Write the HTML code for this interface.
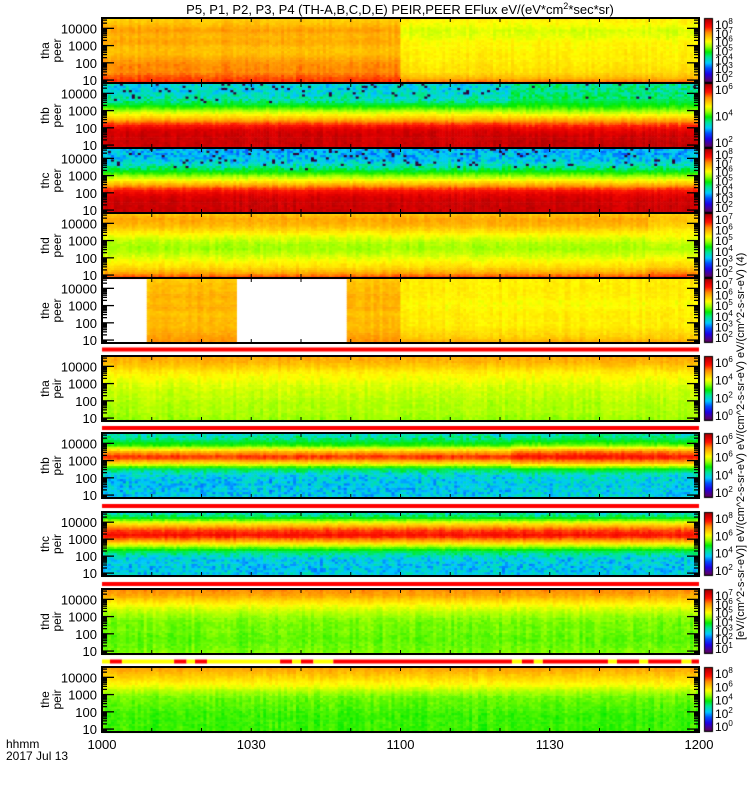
<!DOCTYPE html>
<html><head><meta charset="utf-8">
<style>
html,body{margin:0;padding:0;background:#fff;}
#wrap{position:relative;width:750px;height:800px;overflow:hidden;}
canvas,svg{position:absolute;left:0;top:0;}
text{font-family:"Liberation Sans",sans-serif;fill:#000;}
</style></head>
<body>
<div id="wrap">
<canvas id="cv" width="750" height="800"></canvas>
<svg id="sv" width="750" height="800" xmlns="http://www.w3.org/2000/svg">
<text x="400" y="14" font-size="13" text-anchor="middle">P5, P1, P2, P3, P4 (TH-A,B,C,D,E) PEIR,PEER EFlux eV/(eV*cm<tspan font-size="9" dy="-5">2</tspan><tspan dy="5">*sec*sr)</tspan></text>
<text x="6" y="748" font-size="12">hhmm</text>
<text x="6" y="760" font-size="12">2017 Jul 13</text>
<text transform="translate(744,640) rotate(-90)" font-size="11">[eV/(cm^2-s-sr-eV)] eV/(cm^2-s-sr-eV) eV/(cm^2-s-sr-eV) eV/(cm^2-s-sr-eV) (4)</text>
</svg>
</div>
<script>
// ---------- data ----------
const timeTicks = [1000, 1030, 1100, 1130, 1200];
const tickLabels = ["1000", "1030", "1100", "1130", "1200"];
const yTickValues = [10, 100, 1000, 10000];
const panelNames = [["tha","peer"],["thb","peer"],["thc","peer"],["thd","peer"],["the","peer"],["tha","peir"],["thb","peir"],["thc","peir"],["thd","peir"],["the","peir"]];
// energy profiles (normalized log flux, low energy -> high energy), per time segment [startMin, endMin]
const p1A = [0.88,0.84,0.8,0.8,0.78,0.74,0.74,0.77,0.75,0.78,0.74,0.72];
const p1B = [0.85,0.74,0.7,0.69,0.68,0.68,0.67,0.67,0.64,0.63,0.66,0.68];
const p2A = [0.96,0.96,0.96,0.95,0.88,0.74,0.64,0.52,0.42,0.38,0.36,0.36];
const p2B = [0.97,0.97,0.96,0.93,0.86,0.74,0.62,0.52,0.46,0.43,0.42,0.42];
const p3A = [0.96,0.96,0.96,0.94,0.88,0.74,0.62,0.5,0.4,0.34,0.32,0.32];
const p4A = [0.88,0.76,0.7,0.66,0.62,0.59,0.6,0.64,0.7,0.75,0.77,0.73];
const p4B = [0.9,0.8,0.72,0.68,0.64,0.6,0.62,0.66,0.68,0.72,0.74,0.72];
const p5A = [0.8,0.78,0.76,0.74,0.75,0.73,0.76,0.74,0.76,0.74,0.74,0.72];
const p5B = [0.78,0.72,0.7,0.68,0.68,0.68,0.67,0.66,0.68,0.68,0.68,0.68];
const p6A = [0.58,0.59,0.6,0.6,0.61,0.62,0.63,0.65,0.67,0.71,0.75,0.77];
const p7A = [0.35,0.34,0.34,0.34,0.36,0.46,0.7,0.88,0.74,0.52,0.44,0.38];
const p7B = [0.36,0.35,0.35,0.36,0.38,0.5,0.75,0.9,0.8,0.56,0.46,0.4];
const p8A = [0.36,0.34,0.34,0.35,0.42,0.56,0.75,0.9,0.85,0.7,0.5,0.37];
const p9A = [0.57,0.56,0.55,0.55,0.56,0.56,0.57,0.6,0.64,0.7,0.77,0.8];
const p10A = [0.53,0.53,0.53,0.53,0.54,0.55,0.56,0.6,0.66,0.7,0.74,0.78];
const segments = [
  [[1000,1100,p1A],[1100,1200,p1B]],
  [[1000,1122,p2A],[1122,1200,p2B]],
  [[1000,1200,p3A]],
  [[1000,1150,p4A],[1150,1200,p4B]],
  [[1000,1009.3,null],[1009.3,1026.8,p5A],[1026.8,1049.5,null],[1049.5,1100,p5A],[1100,1200,p5B]],
  [[1000,1200,p6A]],
  [[1000,1122,p7A],[1122,1200,p7B]],
  [[1000,1200,p8A]],
  [[1000,1200,p9A]],
  [[1000,1200,p10A]]
];
const panelTop = [18,83,148,213,278,356,433,512,589,667];
const panelBot = [83,148,213,278,343,421,498,576,654,732];
const cbLabels = [[8,7,6,5,4,3,2],[6,4,2],[8,7,6,5,4,3,2],[7,6,5,4,3,2],[7,6,5,4,3,2],[6,4,2,0],[6,6,4,2],[8,6,4,2],[7,6,5,4,3,2,1],[8,6,4,2,0]];
// quality flag bars: [start, end, color]
const flagBars = [
 {y:347.5,segs:[[1000,1200,"red"]]},
 {y:426,segs:[[1000,1200,"red"]]},
 {y:504,segs:[[1000,1200,"red"]]},
 {y:582,segs:[[1000,1200,"red"]]},
 {y:659.5,segs:[[1000,1001.6,"yellow"],[1001.6,1004,"red"],[1004,1014.5,"yellow"],[1014.5,1017,"red"],[1017,1018.7,"yellow"],[1018.7,1021.1,"red"],[1021.1,1035.8,"yellow"],[1035.8,1038.2,"red"],[1038.2,1040,"yellow"],[1040,1042.5,"red"],[1042.5,1046.5,"yellow"],[1046.5,1122.4,"red"],[1122.4,1124.4,"yellow"],[1124.4,1126.8,"red"],[1126.8,1128.6,"yellow"],[1128.6,1141.7,"red"],[1141.7,1143.5,"yellow"],[1143.5,1148,"red"],[1148,1149.8,"yellow"],[1149.8,1156.5,"red"],[1156.5,1158.5,"yellow"],[1158.5,1200,"red"]]}
];
// ---------- axes ----------
const X0=102, X1=699, LMIN=0.83, LMAX=4.6;
function tMin(t){const h=Math.floor(t/100);return h*60+(t-h*100);}
function xScale(t){return X0+(tMin(t)-600)/120*(X1-X0);}
function yScale(p,logv){return panelBot[p]-(logv-LMIN)/(LMAX-LMIN)*(panelBot[p]-panelTop[p]);}
const stops=[[0,[0,0,0]],[0.06,[90,0,110]],[0.16,[30,0,230]],[0.25,[0,80,255]],[0.33,[0,200,255]],[0.42,[0,230,150]],[0.5,[0,235,0]],[0.58,[150,255,0]],[0.66,[255,255,0]],[0.74,[255,190,0]],[0.8,[255,140,0]],[0.88,[255,20,0]],[0.94,[225,0,0]],[1,[170,0,0]]];
function cmap(v){v=Math.max(0,Math.min(1,v));for(let i=1;i<stops.length;i++){if(v<=stops[i][0]){const a=stops[i-1],b=stops[i];const f=(v-a[0])/(b[0]-a[0]);return "rgb("+[0,1,2].map(k=>Math.round(a[1][k]+(b[1][k]-a[1][k])*f)).join(",")+")";}}return "rgb(170,0,0)";}
function hash(a,b,c){let h=(a*374761393+b*668265263+c*2147483647)|0;h=(h^(h>>>13))*1274126177|0;return ((h^(h>>>16))>>>0)/4294967295;}
const cv=document.getElementById('cv');const ctx=cv.getContext('2d');
const NC=200, NR=30;
for(let p=0;p<10;p++){
  const colW=(X1-X0)/NC;
  for(let c=0;c<NC;c++){
    const m=600+(c+0.5)/NC*120; const t=Math.floor(m/60)*100+(m%60);
    let prof=null,found=false;
    for(const s of segments[p]){if(t>=s[0]&&t<s[1]){prof=s[2];found=true;break;}}
    if(!found)prof=segments[p][segments[p].length-1][2];
    if(!prof)continue;
    const colN=(hash(c,999,p)-0.5)*0.03;
    for(let r=0;r<NR;r++){
      const fr=(r+0.5)/NR*(prof.length-1); const i0=Math.floor(fr),i1=Math.min(prof.length-1,i0+1);
      let v=prof[i0]+(prof[i1]-prof[i0])*(fr-i0);
      const n=hash(c,r,p)-0.5;
      v+= colN + (v<0.45 ? n*0.12 : n*0.03);
      if(p<5 && v<0.42 && hash(r,c,p+17)>0.95) v=0.03;
      const lv0=LMIN+r/NR*(LMAX-LMIN), lv1=LMIN+(r+1)/NR*(LMAX-LMIN);
      const y0=yScale(p,lv1), y1=yScale(p,lv0);
      ctx.fillStyle=cmap(v);
      ctx.fillRect(X0+c*colW,y0,colW+0.6,y1-y0+0.6);
    }
  }
  const cy0=panelTop[p]+1, cy1=panelBot[p]-1;
  for(let y=cy0;y<cy1;y++){ctx.fillStyle=cmap(1-(y-cy0)/(cy1-cy0)*0.97);ctx.fillRect(705,y,7,1);}
  ctx.strokeStyle="#000";ctx.lineWidth=1;ctx.strokeRect(704.5,cy0-0.5,8,cy1-cy0+1);
}
for(const fb of flagBars){for(const s of fb.segs){ctx.fillStyle=s[2];ctx.fillRect(xScale(s[0]),fb.y,xScale(s[1])-xScale(s[0]),4);}}
const NS="http://www.w3.org/2000/svg";const sv=document.getElementById('sv');
function mk(tag,attrs){const e=document.createElementNS(NS,tag);for(const k in attrs)e.setAttribute(k,attrs[k]);sv.appendChild(e);return e;}
for(let p=0;p<10;p++){
  const fr=mk('rect',{x:X0,y:panelTop[p],width:X1-X0,height:panelBot[p]-panelTop[p],fill:'none',stroke:'#000','stroke-width':2});
  
  
  for(let d=0;d<=4;d++){for(let k=1;k<10;k++){
    const lv=d+Math.log10(k); if(lv<LMIN||lv>LMAX)continue;
    const y=yScale(p,lv); const L=k===1?12:5;
    mk('line',{x1:X0,x2:X0+L,y1:y,y2:y,stroke:'#000','stroke-width':1.3});
    mk('line',{x1:X1-L,x2:X1,y1:y,y2:y,stroke:'#000','stroke-width':1.3});
  }}
  for(const v of yTickValues){
    const tx=mk('text',{x:97,y:yScale(p,Math.log10(v))+5,'font-size':13,'text-anchor':'end'});
    tx.textContent=String(v);
    
    
  }
  for(let m=0;m<=120;m+=10){
    const x=X0+m/120*(X1-X0);
    mk('line',{x1:x,x2:x,y1:panelBot[p],y2:panelBot[p]-4,stroke:'#000'});
    mk('line',{x1:x,x2:x,y1:panelTop[p],y2:panelTop[p]+4,stroke:'#000'});
  }
  const cyM=(panelTop[p]+panelBot[p])/2;
  const nm=mk('text',{transform:`translate(49,${cyM}) rotate(-90)`,'font-size':12,'text-anchor':'middle'});
  nm.textContent=panelNames[p][0];
  
  
  const nm2=mk('text',{transform:`translate(61,${cyM}) rotate(-90)`,'font-size':12,'text-anchor':'middle'});
  nm2.textContent=panelNames[p][1];
  
  
  const labs=cbLabels[p]; const n=labs.length;
  for(let i=0;i<n;i++){
    const y=panelTop[p]+6+(panelBot[p]-panelTop[p]-12)*(i/(Math.max(1,n-1)));
    const t=mk('text',{x:715,y:y+5,'font-size':12});
    t.innerHTML='10<tspan font-size="8" dy="-5">'+labs[i]+'</tspan>';
    
    
  }
}
for(let i=0;i<timeTicks.length;i++){
  const t=mk('text',{x:xScale(timeTicks[i]),y:749,'font-size':13,'text-anchor':'middle'});
  t.textContent=tickLabels[i];
  
  
}
</script>
</body></html>
